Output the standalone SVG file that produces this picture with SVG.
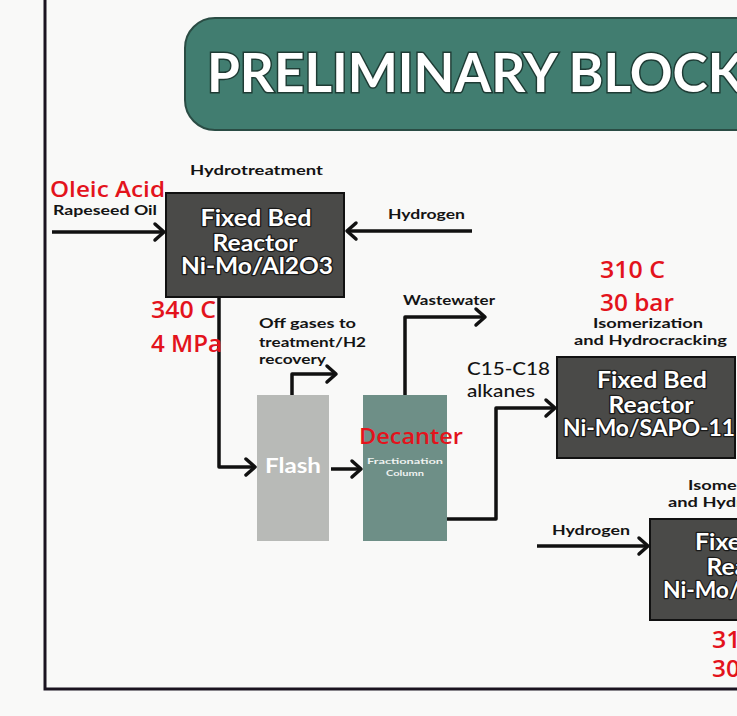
<svg xmlns="http://www.w3.org/2000/svg" width="737" height="716" viewBox="0 0 737 716">
<defs>
<style>
.lbl{font-family:"Lato","Liberation Sans",sans-serif;font-weight:700;fill:#141414}
.red{font-family:"Open Sans","Liberation Sans",sans-serif;font-weight:600;fill:#e3131c}
.rx{font-family:"Lato","Liberation Sans",sans-serif;font-weight:700;fill:#fff;stroke:#1a1a1a;stroke-width:2.5;paint-order:stroke;stroke-linejoin:round}
.reactor{fill:#4a4a48;stroke:#111;stroke-width:2}
.conn{fill:none;stroke:#111;stroke-width:3.5;stroke-linejoin:round;marker-end:url(#ah)}
</style>
<marker id="ah" markerUnits="userSpaceOnUse" markerWidth="24" markerHeight="24" viewBox="-12 -12 24 24" refX="0" refY="0" orient="auto" overflow="visible">
<path d="M-9,-8 L0,0 L-9,8" fill="none" stroke="#111" stroke-width="3.5" stroke-linecap="round" stroke-linejoin="round"/>
</marker>
</defs>
<rect x="0" y="0" width="737" height="716" fill="#f9f9f8"/>
<path d="M45,0 V689 H737" fill="none" stroke="#1b1420" stroke-width="3"/>

<g id="title">
<rect x="185" y="18" width="600" height="112" rx="30" ry="30" fill="#417d70" stroke="#2a4c44" stroke-width="2"/>
<text x="207" y="92" font-family="Lato, 'Liberation Sans', sans-serif" font-weight="700" font-size="54" fill="#fff" stroke="#1e3b34" stroke-width="3" paint-order="stroke" textLength="537" lengthAdjust="spacingAndGlyphs">PRELIMINARY BLOCK</text>
</g>

<g id="connectors">
<path class="conn" d="M52,232 H164"/>
<path class="conn" d="M472,231 H347"/>
<path class="conn" d="M219,297 V467 H255"/>
<path class="conn" d="M292,395 V374 H336"/>
<path class="conn" d="M331,469 H361"/>
<path class="conn" d="M405,395 V317 H485"/>
<path class="conn" d="M447,519 H496 V408 H555"/>
<path class="conn" d="M537,546 H648"/>
</g>

<g id="feed-labels">
<text class="red" x="50" y="197" font-size="22" textLength="115" lengthAdjust="spacingAndGlyphs">Oleic Acid</text>
<text class="lbl" x="53" y="215" font-size="13" textLength="104" lengthAdjust="spacingAndGlyphs">Rapeseed Oil</text>
<text class="lbl" x="388" y="219" font-size="14" textLength="77" lengthAdjust="spacingAndGlyphs">Hydrogen</text>
</g>

<g id="reactor1">
<text class="lbl" x="190" y="175" font-size="14" textLength="133" lengthAdjust="spacingAndGlyphs">Hydrotreatment</text>
<rect class="reactor" x="166" y="193" width="178" height="104"/>
<text class="rx" x="256" y="226" font-size="22" text-anchor="middle" textLength="111" lengthAdjust="spacingAndGlyphs">Fixed Bed</text>
<text class="rx" x="255" y="251" font-size="22" text-anchor="middle" textLength="85" lengthAdjust="spacingAndGlyphs">Reactor</text>
<text class="rx" x="257" y="274" font-size="22" text-anchor="middle" textLength="152" lengthAdjust="spacingAndGlyphs">Ni-Mo/Al2O3</text>
<text class="red" x="151" y="318" font-size="24" textLength="65" lengthAdjust="spacingAndGlyphs">340 C</text>
<text class="red" x="151" y="352" font-size="24" textLength="71" lengthAdjust="spacingAndGlyphs">4 MPa</text>
</g>

<g id="flash">
<rect x="257" y="395" width="72" height="146" fill="#b8bab7"/>
<text x="293" y="473" font-family="Lato, 'Liberation Sans', sans-serif" font-weight="700" font-size="20" fill="#fff" text-anchor="middle" textLength="56" lengthAdjust="spacingAndGlyphs">Flash</text>
<text class="lbl" x="259" y="328" font-size="14" textLength="97" lengthAdjust="spacingAndGlyphs">Off gases to</text>
<text class="lbl" x="259" y="347" font-size="14" textLength="107" lengthAdjust="spacingAndGlyphs">treatment/H2</text>
<text class="lbl" x="259" y="364" font-size="14" textLength="67" lengthAdjust="spacingAndGlyphs">recovery</text>
</g>

<g id="column">
<rect x="363" y="395" width="84" height="146" fill="#6e8f87"/>
<text x="405" y="464" font-family="Lato, 'Liberation Sans', sans-serif" font-weight="700" font-size="8" fill="#eef2f0" text-anchor="middle" textLength="76" lengthAdjust="spacingAndGlyphs">Fractionation</text>
<text x="405" y="476" font-family="Lato, 'Liberation Sans', sans-serif" font-weight="700" font-size="8" fill="#eef2f0" text-anchor="middle" textLength="38" lengthAdjust="spacingAndGlyphs">Column</text>
<text class="red" x="359" y="444" font-size="22" textLength="104" lengthAdjust="spacingAndGlyphs">Decanter</text>
<text class="lbl" x="403" y="305" font-size="14" textLength="92" lengthAdjust="spacingAndGlyphs">Wastewater</text>
<text class="lbl" x="467" y="375" font-size="18" textLength="83" lengthAdjust="spacingAndGlyphs" style="font-weight:500">C15-C18</text>
<text class="lbl" x="467" y="397" font-size="18" textLength="68" lengthAdjust="spacingAndGlyphs" style="font-weight:500">alkanes</text>
</g>

<g id="reactor2">
<text class="red" x="600" y="278" font-size="24" textLength="65" lengthAdjust="spacingAndGlyphs">310 C</text>
<text class="red" x="600" y="311" font-size="24" textLength="74" lengthAdjust="spacingAndGlyphs">30 bar</text>
<text class="lbl" x="593" y="328" font-size="14" textLength="110" lengthAdjust="spacingAndGlyphs">Isomerization</text>
<text class="lbl" x="574" y="345" font-size="14" textLength="153" lengthAdjust="spacingAndGlyphs">and Hydrocracking</text>
<rect class="reactor" x="557" y="357" width="178" height="101"/>
<text class="rx" x="652" y="388" font-size="22" text-anchor="middle" textLength="110" lengthAdjust="spacingAndGlyphs">Fixed Bed</text>
<text class="rx" x="651" y="413" font-size="22" text-anchor="middle" textLength="85" lengthAdjust="spacingAndGlyphs">Reactor</text>
<text class="rx" x="649" y="436" font-size="22" text-anchor="middle" textLength="172" lengthAdjust="spacingAndGlyphs">Ni-Mo/SAPO-11</text>
</g>

<g id="reactor3">
<text class="lbl" x="552" y="535" font-size="14" textLength="78" lengthAdjust="spacingAndGlyphs">Hydrogen</text>
<text class="lbl" x="688" y="490" font-size="14" textLength="110" lengthAdjust="spacingAndGlyphs">Isomerization</text>
<text class="lbl" x="668" y="507" font-size="14" textLength="153" lengthAdjust="spacingAndGlyphs">and Hydrocracking</text>
<rect class="reactor" x="650" y="519" width="180" height="101"/>
<text class="rx" x="750" y="550" font-size="22" text-anchor="middle" textLength="110" lengthAdjust="spacingAndGlyphs">Fixed Bed</text>
<text class="rx" x="749" y="575" font-size="22" text-anchor="middle" textLength="85" lengthAdjust="spacingAndGlyphs">Reactor</text>
<text class="rx" x="749" y="598" font-size="22" text-anchor="middle" textLength="172" lengthAdjust="spacingAndGlyphs">Ni-Mo/SAPO-11</text>
<text class="red" x="712" y="648" font-size="24" textLength="65" lengthAdjust="spacingAndGlyphs">310 C</text>
<text class="red" x="712" y="677" font-size="24" textLength="74" lengthAdjust="spacingAndGlyphs">30 bar</text>
</g>
</svg>
